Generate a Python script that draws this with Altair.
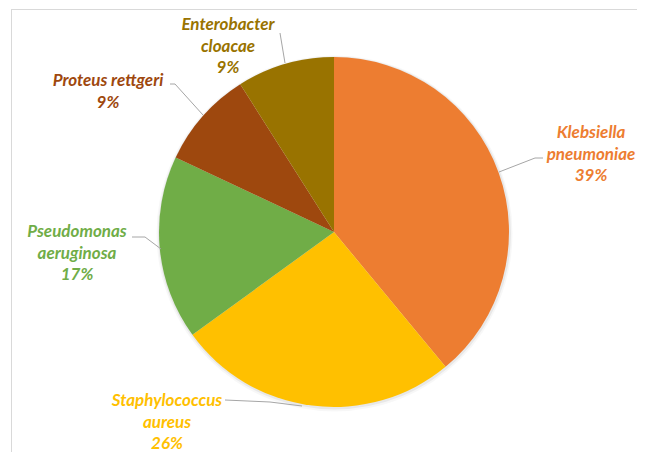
import math
import altair as alt
import pandas as pd

# ---- data ----
organisms = ["Klebsiella pneumoniae", "Staphylococcus aureus", "Pseudomonas aeruginosa",
             "Proteus rettgeri", "Enterobacter cloacae"]
label_names = ["Klebsiella\npneumoniae", "Staphylococcus\naureus", "Pseudomonas\naeruginosa",
               "Proteus rettgeri", "Enterobacter\ncloacae"]
shares = [39, 26, 17, 9, 9]
colors = ["#ED7D31", "#FFC000", "#70AD47", "#9E480E", "#997300"]

# ---- layout (chart pixels) ----
W, H = 629, 444
CX, CY, R = 326, 224, 175
# position of the first text line of each label
label_xy = [(583, 125), (159, 393), (69, 224), (100, 73), (220, 17)]
leader_paths = [
    [(535, 150), (527, 150), (491, 164)],
    [(217, 392), (262, 394), (294, 398)],
    [(124, 229), (137, 229), (153, 241)],
    [(162, 76), (167, 76), (195, 107)],
    [(272, 25), (277, 55)],
]

pie_df = pd.DataFrame({"organism": organisms, "share": shares, "order": list(range(len(shares)))})

lab_df = pd.DataFrame({
    "organism": organisms,
    "text": [f"{n}\n{s}%" for n, s in zip(label_names, shares)],
    "x": [p[0] for p in label_xy],
    "y": [p[1] for p in label_xy],
})

rows = []
for i, path in enumerate(leader_paths):
    for j, (x, y) in enumerate(path):
        rows.append({"id": i, "seq": j, "x": x, "y": y})
lead_df = pd.DataFrame(rows)

xs = alt.Scale(domain=[0, W], range=[0, W], nice=False, zero=False)
ys = alt.Scale(domain=[0, H], range=[0, H], nice=False, zero=False)
color_scale = alt.Scale(domain=organisms, range=colors)

one = pd.DataFrame({"a": [1]})

border_v = alt.Chart(one).mark_rule(color="#D9D9D9", strokeWidth=1).encode(
    x=alt.value(3.5), y=alt.value(1), y2=alt.value(H))
border_h = alt.Chart(one).mark_rule(color="#D9D9D9", strokeWidth=1).encode(
    x=alt.value(3), x2=alt.value(W), y=alt.value(1.5))

shadow1 = alt.Chart(one).mark_arc(radius=R + 3, theta=0, theta2=2 * math.pi,
                                  color="#000000", opacity=0.03).encode(
    x=alt.value(CX + 0.5), y=alt.value(CY + 1.5))
shadow2 = alt.Chart(one).mark_arc(radius=R + 1.5, theta=0, theta2=2 * math.pi,
                                  color="#000000", opacity=0.06).encode(
    x=alt.value(CX + 0.5), y=alt.value(CY + 1))

pie = alt.Chart(pie_df).mark_arc(radius=R).encode(
    theta=alt.Theta("share:Q", stack=True),
    color=alt.Color("organism:N", scale=color_scale, legend=None),
    order=alt.Order("order:Q"),
    x=alt.value(CX), y=alt.value(CY),
)

leaders = alt.Chart(lead_df).mark_line(color="#A6A6A6", strokeWidth=1).encode(
    x=alt.X("x:Q", scale=xs, axis=None),
    y=alt.Y("y:Q", scale=ys, axis=None),
    detail="id:N",
    order="seq:Q",
)

labels = alt.Chart(lab_df).mark_text(
    font="Lato", fontSize=17, fontWeight="bold", fontStyle="italic",
    lineBreak="\n", lineHeight=21.5, align="center", baseline="middle",
).encode(
    x=alt.X("x:Q", scale=xs, axis=None),
    y=alt.Y("y:Q", scale=ys, axis=None),
    text="text:N",
    color=alt.Color("organism:N", scale=color_scale, legend=None),
)

chart = alt.layer(border_v, border_h, shadow1, shadow2, pie, leaders, labels).properties(
    width=W, height=H, padding=0, autosize=alt.AutoSizeParams(type="none"),
).configure_view(stroke=None)

chart.save("out.html", embed_options={"renderer": "svg", "actions": False})
